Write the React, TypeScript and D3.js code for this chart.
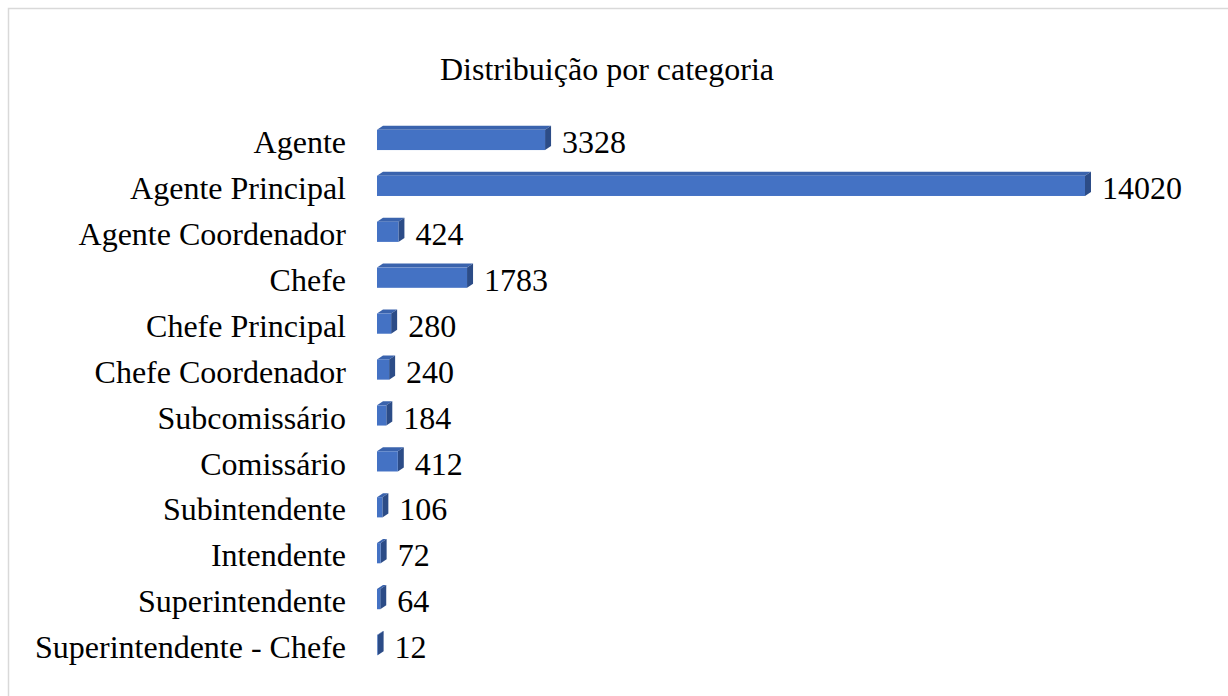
import { scaleBand, scaleLinear } from "d3";

const categories = [
  "Agente",
  "Agente Principal",
  "Agente Coordenador",
  "Chefe",
  "Chefe Principal",
  "Chefe Coordenador",
  "Subcomissário",
  "Comissário",
  "Subintendente",
  "Intendente",
  "Superintendente",
  "Superintendente - Chefe",
];
const counts = [3328, 14020, 424, 1783, 280, 240, 184, 412, 106, 72, 64, 12];

const title = "Distribuição por categoria";

export default function App() {
  const width = 1228;
  const height = 696;
  const depthX = 6;
  const depthY = 4;
  const font = "'Liberation Serif', 'Times New Roman', serif";
  const fs = 32;

  const x = scaleLinear().domain([0, 14020]).range([377, 1085]);
  const y = scaleBand<string>()
    .domain(categories)
    .range([117, 668])
    .paddingInner(0.56)
    .paddingOuter(0.28);

  const bw = y.bandwidth();

  return (
    <svg
      width={width}
      height={height}
      style={{ position: "absolute", left: 0, top: 0, background: "#fff" }}
    >
      <rect x={8.5} y={8.5} width={1240} height={720} fill="#fff" stroke="#d9d9d9" strokeWidth={1.5} />
      <text x={607} y={80} textAnchor="middle" fontFamily={font} fontSize={fs} fill="#000">
        {title}
      </text>
      {categories.map((c, i) => {
        const y0 = y(c) as number;
        const x0 = x(0);
        const x1 = x(counts[i]);
        const cy = y0 + bw / 2;
        return (
          <g key={c}>
            <text x={346} y={cy + 2} dy="0.35em" textAnchor="end" fontFamily={font} fontSize={fs} fill="#000">
              {c}
            </text>
            <polygon
              points={`${x0},${y0} ${x0 + depthX},${y0 - depthY} ${x1 + depthX},${y0 - depthY} ${x1},${y0}`}
              fill="#3a63ad"
            />
            <polygon
              points={`${x1},${y0} ${x1 + depthX},${y0 - depthY} ${x1 + depthX},${y0 + bw - depthY} ${x1},${y0 + bw}`}
              fill="#2c4c87"
            />
            <rect x={x0} y={y0} width={x1 - x0} height={bw} fill="#4472c4" />
            <text x={x1 + depthX + 11} y={cy + 2} dy="0.35em" fontFamily={font} fontSize={fs} fill="#000">
              {counts[i]}
            </text>
          </g>
        );
      })}
    </svg>
  );
}
